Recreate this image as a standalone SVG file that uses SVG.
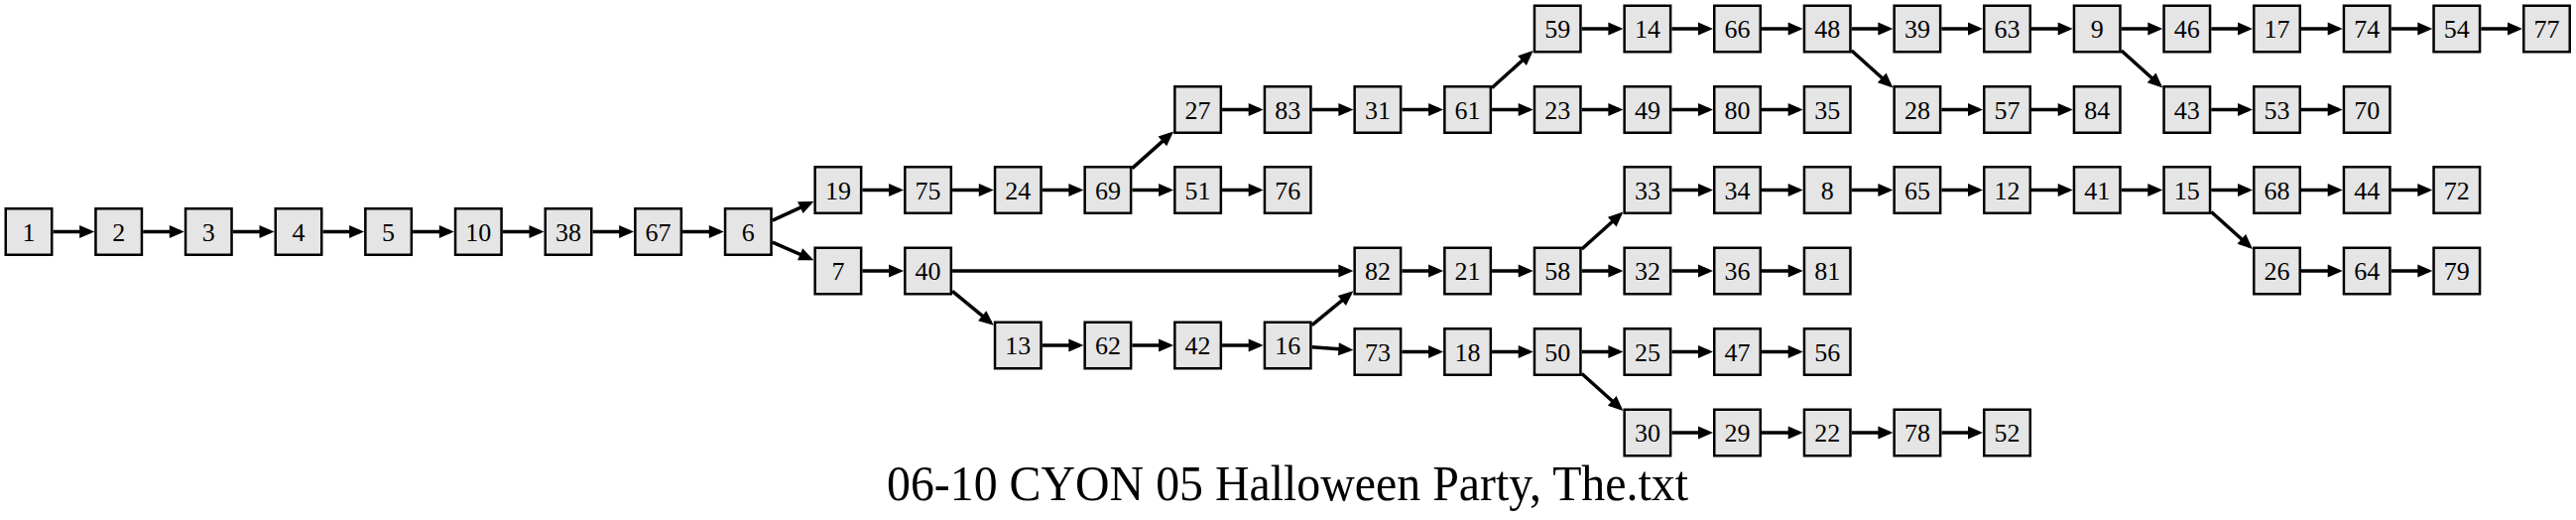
<svg xmlns="http://www.w3.org/2000/svg" width="2597" height="524" viewBox="0 0 2597 524">
<style>
#bx{fill:#e5e5e5;stroke:#000;stroke-width:2.5}
.n text{font-family:"Liberation Serif","Times New Roman",serif;font-size:26px;text-anchor:middle;fill:#000}
#edges line{stroke:#000;stroke-width:3.5;marker-end:url(#ah)}
.title{font-family:"Liberation Serif","Times New Roman",serif;font-size:50px;text-anchor:middle;fill:#000}
</style>
<defs>
<marker id="ah" markerUnits="userSpaceOnUse" markerWidth="16" markerHeight="14" refX="11" refY="6.5" orient="auto" overflow="visible">
<path d="M0,0 L15,6.5 L0,13 z" fill="#000"/>
</marker>
<rect id="bx" x="-23.25" y="-23.25" width="46.5" height="46.5" fill="#e5e5e5" stroke="#000" stroke-width="2.5"/>
</defs>
<rect width="2597" height="524" fill="#fff"/>
<g id="edges">
<line x1="53.5" y1="233.5" x2="91.2" y2="233.5"/>
<line x1="144.2" y1="233.5" x2="181.8" y2="233.5"/>
<line x1="234.8" y1="233.5" x2="272.5" y2="233.5"/>
<line x1="325.5" y1="233.5" x2="363.1" y2="233.5"/>
<line x1="416.1" y1="233.5" x2="453.8" y2="233.5"/>
<line x1="506.8" y1="233.5" x2="544.5" y2="233.5"/>
<line x1="597.5" y1="233.5" x2="635.1" y2="233.5"/>
<line x1="688.1" y1="233.5" x2="725.8" y2="233.5"/>
<line x1="778.8" y1="222.1" x2="816.8" y2="204.6"/>
<line x1="778.8" y1="244.2" x2="816.7" y2="260.7"/>
<line x1="869.4" y1="191.5" x2="907.1" y2="191.5"/>
<line x1="960.1" y1="191.5" x2="997.8" y2="191.5"/>
<line x1="1050.8" y1="191.5" x2="1088.4" y2="191.5"/>
<line x1="1141.4" y1="191.5" x2="1179.1" y2="191.5"/>
<line x1="1232.1" y1="191.5" x2="1269.7" y2="191.5"/>
<line x1="1141.4" y1="169.6" x2="1180.1" y2="135.1"/>
<line x1="1232.1" y1="110.5" x2="1269.7" y2="110.5"/>
<line x1="1322.7" y1="110.5" x2="1360.4" y2="110.5"/>
<line x1="1413.4" y1="110.5" x2="1451.1" y2="110.5"/>
<line x1="1504.1" y1="110.5" x2="1541.7" y2="110.5"/>
<line x1="1594.7" y1="110.5" x2="1632.4" y2="110.5"/>
<line x1="1685.4" y1="110.5" x2="1723.0" y2="110.5"/>
<line x1="1776.0" y1="110.5" x2="1813.7" y2="110.5"/>
<line x1="1957.4" y1="110.5" x2="1995.0" y2="110.5"/>
<line x1="2048.0" y1="110.5" x2="2085.7" y2="110.5"/>
<line x1="2229.3" y1="110.5" x2="2267.0" y2="110.5"/>
<line x1="2320.0" y1="110.5" x2="2357.7" y2="110.5"/>
<line x1="1504.1" y1="88.5" x2="1542.7" y2="53.7"/>
<line x1="1866.7" y1="51.0" x2="1905.4" y2="85.8"/>
<line x1="2138.7" y1="51.0" x2="2177.3" y2="85.8"/>
<line x1="1594.7" y1="29" x2="1632.4" y2="29"/>
<line x1="1685.4" y1="29" x2="1723.0" y2="29"/>
<line x1="1776.0" y1="29" x2="1813.7" y2="29"/>
<line x1="1866.7" y1="29" x2="1904.4" y2="29"/>
<line x1="1957.4" y1="29" x2="1995.0" y2="29"/>
<line x1="2048.0" y1="29" x2="2085.7" y2="29"/>
<line x1="2138.7" y1="29" x2="2176.3" y2="29"/>
<line x1="2229.3" y1="29" x2="2267.0" y2="29"/>
<line x1="2320.0" y1="29" x2="2357.7" y2="29"/>
<line x1="2410.7" y1="29" x2="2448.3" y2="29"/>
<line x1="2501.3" y1="29" x2="2539.0" y2="29"/>
<line x1="1685.4" y1="191.5" x2="1723.0" y2="191.5"/>
<line x1="1776.0" y1="191.5" x2="1813.7" y2="191.5"/>
<line x1="1866.7" y1="191.5" x2="1904.4" y2="191.5"/>
<line x1="1957.4" y1="191.5" x2="1995.0" y2="191.5"/>
<line x1="2048.0" y1="191.5" x2="2085.7" y2="191.5"/>
<line x1="2138.7" y1="191.5" x2="2176.3" y2="191.5"/>
<line x1="2229.3" y1="191.5" x2="2267.0" y2="191.5"/>
<line x1="2320.0" y1="191.5" x2="2357.7" y2="191.5"/>
<line x1="2410.7" y1="191.5" x2="2448.3" y2="191.5"/>
<line x1="1594.7" y1="251.0" x2="1633.4" y2="216.2"/>
<line x1="2229.3" y1="213.5" x2="2268.0" y2="248.3"/>
<line x1="869.4" y1="273" x2="907.1" y2="273"/>
<line x1="960.1" y1="273" x2="1360.4" y2="273"/>
<line x1="1413.4" y1="273" x2="1451.1" y2="273"/>
<line x1="1504.1" y1="273" x2="1541.7" y2="273"/>
<line x1="1594.7" y1="273" x2="1632.4" y2="273"/>
<line x1="1685.4" y1="273" x2="1723.0" y2="273"/>
<line x1="1776.0" y1="273" x2="1813.7" y2="273"/>
<line x1="2320.0" y1="273" x2="2357.7" y2="273"/>
<line x1="2410.7" y1="273" x2="2448.3" y2="273"/>
<line x1="960.1" y1="293.3" x2="998.7" y2="325.2"/>
<line x1="1050.8" y1="348" x2="1088.4" y2="348"/>
<line x1="1141.4" y1="348" x2="1179.1" y2="348"/>
<line x1="1232.1" y1="348" x2="1269.7" y2="348"/>
<line x1="1322.7" y1="327.7" x2="1361.3" y2="295.9"/>
<line x1="1322.7" y1="349.8" x2="1360.4" y2="352.4"/>
<line x1="1413.4" y1="354.5" x2="1451.1" y2="354.5"/>
<line x1="1504.1" y1="354.5" x2="1541.7" y2="354.5"/>
<line x1="1594.7" y1="354.5" x2="1632.4" y2="354.5"/>
<line x1="1685.4" y1="354.5" x2="1723.0" y2="354.5"/>
<line x1="1776.0" y1="354.5" x2="1813.7" y2="354.5"/>
<line x1="1594.7" y1="376.5" x2="1633.4" y2="411.3"/>
<line x1="1685.4" y1="436" x2="1723.0" y2="436"/>
<line x1="1776.0" y1="436" x2="1813.7" y2="436"/>
<line x1="1866.7" y1="436" x2="1904.4" y2="436"/>
<line x1="1957.4" y1="436" x2="1995.0" y2="436"/>
</g>
<g id="n1" class="n" transform="translate(29,233.5)"><use href="#bx"/><text y="9">1</text></g>
<g id="n2" class="n" transform="translate(119.7,233.5)"><use href="#bx"/><text y="9">2</text></g>
<g id="n3" class="n" transform="translate(210.3,233.5)"><use href="#bx"/><text y="9">3</text></g>
<g id="n4" class="n" transform="translate(301,233.5)"><use href="#bx"/><text y="9">4</text></g>
<g id="n5" class="n" transform="translate(391.6,233.5)"><use href="#bx"/><text y="9">5</text></g>
<g id="n10" class="n" transform="translate(482.3,233.5)"><use href="#bx"/><text y="9">10</text></g>
<g id="n38" class="n" transform="translate(573,233.5)"><use href="#bx"/><text y="9">38</text></g>
<g id="n67" class="n" transform="translate(663.6,233.5)"><use href="#bx"/><text y="9">67</text></g>
<g id="n6" class="n" transform="translate(754.3,233.5)"><use href="#bx"/><text y="9">6</text></g>
<g id="n19" class="n" transform="translate(844.9,191.5)"><use href="#bx"/><text y="9">19</text></g>
<g id="n7" class="n" transform="translate(844.9,273)"><use href="#bx"/><text y="9">7</text></g>
<g id="n75" class="n" transform="translate(935.6,191.5)"><use href="#bx"/><text y="9">75</text></g>
<g id="n40" class="n" transform="translate(935.6,273)"><use href="#bx"/><text y="9">40</text></g>
<g id="n24" class="n" transform="translate(1026.3,191.5)"><use href="#bx"/><text y="9">24</text></g>
<g id="n13" class="n" transform="translate(1026.3,348)"><use href="#bx"/><text y="9">13</text></g>
<g id="n69" class="n" transform="translate(1116.9,191.5)"><use href="#bx"/><text y="9">69</text></g>
<g id="n62" class="n" transform="translate(1116.9,348)"><use href="#bx"/><text y="9">62</text></g>
<g id="n27" class="n" transform="translate(1207.6,110.5)"><use href="#bx"/><text y="9">27</text></g>
<g id="n51" class="n" transform="translate(1207.6,191.5)"><use href="#bx"/><text y="9">51</text></g>
<g id="n42" class="n" transform="translate(1207.6,348)"><use href="#bx"/><text y="9">42</text></g>
<g id="n83" class="n" transform="translate(1298.2,110.5)"><use href="#bx"/><text y="9">83</text></g>
<g id="n76" class="n" transform="translate(1298.2,191.5)"><use href="#bx"/><text y="9">76</text></g>
<g id="n16" class="n" transform="translate(1298.2,348)"><use href="#bx"/><text y="9">16</text></g>
<g id="n31" class="n" transform="translate(1388.9,110.5)"><use href="#bx"/><text y="9">31</text></g>
<g id="n82" class="n" transform="translate(1388.9,273)"><use href="#bx"/><text y="9">82</text></g>
<g id="n73" class="n" transform="translate(1388.9,354.5)"><use href="#bx"/><text y="9">73</text></g>
<g id="n61" class="n" transform="translate(1479.6,110.5)"><use href="#bx"/><text y="9">61</text></g>
<g id="n21" class="n" transform="translate(1479.6,273)"><use href="#bx"/><text y="9">21</text></g>
<g id="n18" class="n" transform="translate(1479.6,354.5)"><use href="#bx"/><text y="9">18</text></g>
<g id="n59" class="n" transform="translate(1570.2,29)"><use href="#bx"/><text y="9">59</text></g>
<g id="n23" class="n" transform="translate(1570.2,110.5)"><use href="#bx"/><text y="9">23</text></g>
<g id="n58" class="n" transform="translate(1570.2,273)"><use href="#bx"/><text y="9">58</text></g>
<g id="n50" class="n" transform="translate(1570.2,354.5)"><use href="#bx"/><text y="9">50</text></g>
<g id="n14" class="n" transform="translate(1660.9,29)"><use href="#bx"/><text y="9">14</text></g>
<g id="n49" class="n" transform="translate(1660.9,110.5)"><use href="#bx"/><text y="9">49</text></g>
<g id="n33" class="n" transform="translate(1660.9,191.5)"><use href="#bx"/><text y="9">33</text></g>
<g id="n32" class="n" transform="translate(1660.9,273)"><use href="#bx"/><text y="9">32</text></g>
<g id="n25" class="n" transform="translate(1660.9,354.5)"><use href="#bx"/><text y="9">25</text></g>
<g id="n30" class="n" transform="translate(1660.9,436)"><use href="#bx"/><text y="9">30</text></g>
<g id="n66" class="n" transform="translate(1751.5,29)"><use href="#bx"/><text y="9">66</text></g>
<g id="n80" class="n" transform="translate(1751.5,110.5)"><use href="#bx"/><text y="9">80</text></g>
<g id="n34" class="n" transform="translate(1751.5,191.5)"><use href="#bx"/><text y="9">34</text></g>
<g id="n36" class="n" transform="translate(1751.5,273)"><use href="#bx"/><text y="9">36</text></g>
<g id="n47" class="n" transform="translate(1751.5,354.5)"><use href="#bx"/><text y="9">47</text></g>
<g id="n29" class="n" transform="translate(1751.5,436)"><use href="#bx"/><text y="9">29</text></g>
<g id="n48" class="n" transform="translate(1842.2,29)"><use href="#bx"/><text y="9">48</text></g>
<g id="n35" class="n" transform="translate(1842.2,110.5)"><use href="#bx"/><text y="9">35</text></g>
<g id="n8" class="n" transform="translate(1842.2,191.5)"><use href="#bx"/><text y="9">8</text></g>
<g id="n81" class="n" transform="translate(1842.2,273)"><use href="#bx"/><text y="9">81</text></g>
<g id="n56" class="n" transform="translate(1842.2,354.5)"><use href="#bx"/><text y="9">56</text></g>
<g id="n22" class="n" transform="translate(1842.2,436)"><use href="#bx"/><text y="9">22</text></g>
<g id="n39" class="n" transform="translate(1932.9,29)"><use href="#bx"/><text y="9">39</text></g>
<g id="n28" class="n" transform="translate(1932.9,110.5)"><use href="#bx"/><text y="9">28</text></g>
<g id="n65" class="n" transform="translate(1932.9,191.5)"><use href="#bx"/><text y="9">65</text></g>
<g id="n78" class="n" transform="translate(1932.9,436)"><use href="#bx"/><text y="9">78</text></g>
<g id="n63" class="n" transform="translate(2023.5,29)"><use href="#bx"/><text y="9">63</text></g>
<g id="n57" class="n" transform="translate(2023.5,110.5)"><use href="#bx"/><text y="9">57</text></g>
<g id="n12" class="n" transform="translate(2023.5,191.5)"><use href="#bx"/><text y="9">12</text></g>
<g id="n52" class="n" transform="translate(2023.5,436)"><use href="#bx"/><text y="9">52</text></g>
<g id="n9" class="n" transform="translate(2114.2,29)"><use href="#bx"/><text y="9">9</text></g>
<g id="n84" class="n" transform="translate(2114.2,110.5)"><use href="#bx"/><text y="9">84</text></g>
<g id="n41" class="n" transform="translate(2114.2,191.5)"><use href="#bx"/><text y="9">41</text></g>
<g id="n46" class="n" transform="translate(2204.8,29)"><use href="#bx"/><text y="9">46</text></g>
<g id="n43" class="n" transform="translate(2204.8,110.5)"><use href="#bx"/><text y="9">43</text></g>
<g id="n15" class="n" transform="translate(2204.8,191.5)"><use href="#bx"/><text y="9">15</text></g>
<g id="n17" class="n" transform="translate(2295.5,29)"><use href="#bx"/><text y="9">17</text></g>
<g id="n53" class="n" transform="translate(2295.5,110.5)"><use href="#bx"/><text y="9">53</text></g>
<g id="n68" class="n" transform="translate(2295.5,191.5)"><use href="#bx"/><text y="9">68</text></g>
<g id="n26" class="n" transform="translate(2295.5,273)"><use href="#bx"/><text y="9">26</text></g>
<g id="n74" class="n" transform="translate(2386.2,29)"><use href="#bx"/><text y="9">74</text></g>
<g id="n70" class="n" transform="translate(2386.2,110.5)"><use href="#bx"/><text y="9">70</text></g>
<g id="n44" class="n" transform="translate(2386.2,191.5)"><use href="#bx"/><text y="9">44</text></g>
<g id="n64" class="n" transform="translate(2386.2,273)"><use href="#bx"/><text y="9">64</text></g>
<g id="n54" class="n" transform="translate(2476.8,29)"><use href="#bx"/><text y="9">54</text></g>
<g id="n72" class="n" transform="translate(2476.8,191.5)"><use href="#bx"/><text y="9">72</text></g>
<g id="n79" class="n" transform="translate(2476.8,273)"><use href="#bx"/><text y="9">79</text></g>
<g id="n77" class="n" transform="translate(2567.5,29)"><use href="#bx"/><text y="9">77</text></g>
<text class="title" x="1298" y="504" textLength="808" lengthAdjust="spacingAndGlyphs">06-10 CYON 05 Halloween Party, The.txt</text>
</svg>
